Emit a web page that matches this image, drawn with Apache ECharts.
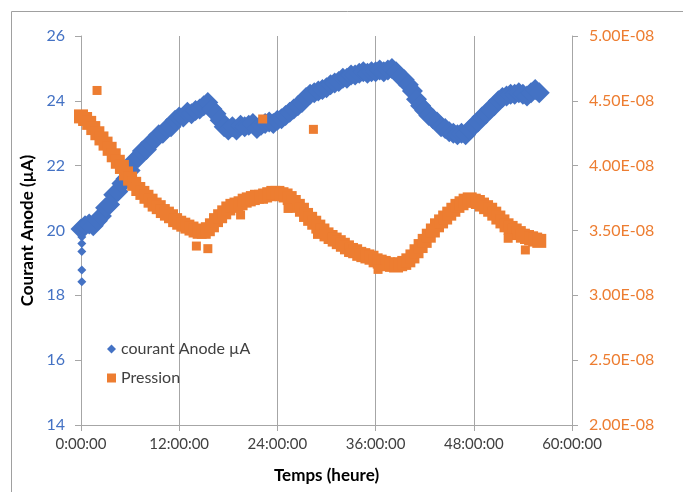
<!DOCTYPE html>
<html>
<head>
<meta charset="utf-8">
<script src="https://cdn.jsdelivr.net/npm/echarts@6/dist/echarts.min.js"></script>
<style>
  html, body { margin: 0; padding: 0; background: #ffffff; }
  #chart { width: 683px; height: 492px; }
</style>
</head>
<body>
<div id="chart"></div>
<script>
// ---- Data ----
const hours = [
  0,0.5,1,1.5,2,2.5,3,3.5,4,4.5,
  5,5.5,6,6.5,7,7.5,8,8.5,9,9.5,
  10,10.5,11,11.5,12,12.5,13,13.5,14,14.5,
  15,15.5,16,16.5,17,17.5,18,18.5,19,19.5,
  20,20.5,21,21.5,22,22.5,23,23.5,24,24.5,
  25,25.5,26,26.5,27,27.5,28,28.5,29,29.5,
  30,30.5,31,31.5,32,32.5,33,33.5,34,34.5,
  35,35.5,36,36.5,37,37.5,38,38.5,39,39.5,
  40,40.5,41,41.5,42,42.5,43,43.5,44,44.5,
  45,45.5,46,46.5,47,47.5,48,48.5,49,49.5,
  50,50.5,51,51.5,52,52.5,53,53.5,54,54.5,
  55,55.5,56
];
// courant Anode (µA)
const anodeValues = [
  20.05,20.15,20.2,20.15,20.3,20.45,20.7,20.8,21.1,21.2,
  21.45,21.6,21.85,22.15,22.25,22.45,22.5,22.7,22.8,22.95,
  23.0,23.15,23.2,23.4,23.5,23.5,23.65,23.6,23.7,23.75,
  23.85,23.95,23.75,23.6,23.4,23.2,23.1,23.2,23.1,23.25,
  23.2,23.25,23.3,23.15,23.25,23.3,23.35,23.3,23.4,23.45,
  23.55,23.65,23.75,23.85,23.95,24.1,24.2,24.25,24.3,24.35,
  24.4,24.5,24.55,24.6,24.7,24.7,24.8,24.8,24.85,24.9,
  24.85,24.9,24.9,24.95,24.9,24.95,25.0,24.9,24.75,24.65,
  24.5,24.3,24.05,23.85,23.7,23.55,23.45,23.35,23.2,23.15,
  23.05,23.0,22.95,23.0,22.95,23.1,23.25,23.35,23.5,23.6,
  23.75,23.85,24.0,24.1,24.15,24.2,24.2,24.25,24.2,24.15,
  24.25,24.35,24.25
];
// isolated anode readings at the start
const anodeStartHours = [0.1,0.1,0.1,0.1,0.1];
const anodeStartValues = [18.42,18.78,19.35,19.6,19.8];

// Pression (in units of 1E-08)
const pressionValues = [
  4.38,4.36,4.33,4.29,4.25,4.21,4.17,4.13,4.08,4.03,
  3.99,3.94,3.90,3.86,3.82,3.79,3.76,3.73,3.70,3.68,
  3.65,3.63,3.61,3.58,3.56,3.545,3.53,3.515,3.50,3.49,
  3.49,3.51,3.54,3.58,3.61,3.64,3.67,3.69,3.70,3.71,
  3.73,3.74,3.75,3.76,3.76,3.77,3.78,3.79,3.79,3.78,
  3.77,3.75,3.72,3.69,3.66,3.62,3.59,3.56,3.53,3.50,
  3.47,3.45,3.43,3.41,3.39,3.37,3.35,3.34,3.32,3.31,
  3.30,3.29,3.27,3.26,3.25,3.24,3.235,3.23,3.24,3.25,
  3.27,3.30,3.34,3.38,3.42,3.46,3.50,3.54,3.57,3.60,
  3.63,3.66,3.69,3.71,3.73,3.74,3.73,3.72,3.70,3.68,
  3.66,3.63,3.60,3.57,3.54,3.52,3.50,3.48,3.46,3.45,
  3.44,3.43,3.42
];
// isolated pressure readings (outliers)
const pressionOutlierHours  = [1.96, 22.2, 28.4, 14.1, 15.5, 19.5, 25.3, 28.9, 32.9, 36.3, 52.2, 54.3];
const pressionOutlierValues = [4.58, 4.36, 4.28, 3.38, 3.36, 3.62, 3.67, 3.47, 3.33, 3.20, 3.44, 3.35];

const xTicks = [0, 12, 24, 36, 48, 60];
const xTickLabels = ['0:00:00', '12:00:00', '24:00:00', '36:00:00', '48:00:00', '60:00:00'];

// ---- Chart ----
const BLUE = '#4472C4';
const ORANGE = '#ED7D31';
const FONT = 'Lato, "Open Sans", "Liberation Sans", sans-serif';

const anodeData = hours.map((h, i) => [h, anodeValues[i]])
  .concat(anodeStartHours.map((h, i) => ({ value: [h, anodeStartValues[i]], symbolSize: 9 })));
const pressionData = hours.map((h, i) => [h, pressionValues[i]])
  .concat(pressionOutlierHours.map((h, i) => ({ value: [h, pressionOutlierValues[i]], symbolSize: 9 })));

const chart = echarts.init(document.getElementById('chart'), null, { renderer: 'canvas' });
chart.setOption({
  animation: false,
  backgroundColor: '#ffffff',
  textStyle: { fontFamily: FONT },
  graphic: [{
    type: 'rect',
    silent: true,
    shape: { x: 11.5, y: 11.5, width: 720, height: 520 },
    style: { fill: 'none', stroke: '#a0a0a0', lineWidth: 1 }
  }],
  grid: { left: 81, right: 111, top: 36, bottom: 67, containLabel: false },
  legend: {
    orient: 'vertical',
    left: 102,
    top: 336,
    itemWidth: 9,
    itemHeight: 9,
    itemGap: 13,
    textStyle: { fontFamily: FONT, fontSize: 16, color: '#404040' },
    data: [
      { name: 'courant Anode µA', icon: 'diamond' },
      { name: 'Pression', icon: 'rect' }
    ]
  },
  xAxis: {
    type: 'value',
    min: 0, max: 60, interval: 12,
    name: 'Temps (heure)',
    nameLocation: 'middle',
    nameGap: 42,
    nameTextStyle: { fontFamily: FONT, fontSize: 17, fontWeight: 'bold', color: '#000000' },
    axisLine: { show: true, onZero: false, lineStyle: { color: '#a6a6a6', width: 1 } },
    axisTick: { show: true, length: 6, lineStyle: { color: '#a6a6a6' } },
    axisLabel: {
      fontFamily: FONT, fontSize: 15, color: '#404040', margin: 12,
      formatter: v => { const k = xTicks.indexOf(v); return k >= 0 ? xTickLabels[k] : ''; }
    },
    splitLine: { show: true, lineStyle: { color: '#a6a6a6', width: 1 } }
  },
  yAxis: [{
    type: 'value',
    min: 14, max: 26, interval: 2,
    position: 'left',
    name: 'Courant Anode (µA)',
    nameLocation: 'middle',
    nameGap: 43,
    nameTextStyle: { fontFamily: FONT, fontSize: 17, fontWeight: 'bold', color: '#000000' },
    axisLine: { show: true, lineStyle: { color: '#a6a6a6', width: 1 } },
    axisTick: { show: true, length: 6, lineStyle: { color: '#a6a6a6' } },
    axisLabel: { fontFamily: FONT, fontSize: 16, color: BLUE, margin: 16 },
    splitLine: { show: false }
  }, {
    type: 'value',
    min: 2, max: 5, interval: 0.5,
    position: 'right',
    axisLine: { show: true, lineStyle: { color: '#a6a6a6', width: 1 } },
    axisTick: { show: true, length: 6, lineStyle: { color: '#a6a6a6' } },
    axisLabel: {
      fontFamily: FONT, fontSize: 16, color: ORANGE, margin: 17,
      formatter: v => v.toFixed(2) + 'E-08'
    },
    splitLine: { show: false }
  }],
  series: [{
    name: 'courant Anode µA',
    type: 'scatter',
    yAxisIndex: 0,
    symbol: 'diamond',
    symbolSize: 21,
    itemStyle: { color: BLUE, opacity: 1 },
    emphasis: { disabled: true },
    data: anodeData
  }, {
    name: 'Pression',
    type: 'scatter',
    yAxisIndex: 1,
    symbol: 'rect',
    symbolSize: 14,
    itemStyle: { color: ORANGE, opacity: 1 },
    emphasis: { disabled: true },
    data: pressionData
  }]
});
</script>
</body>
</html>
